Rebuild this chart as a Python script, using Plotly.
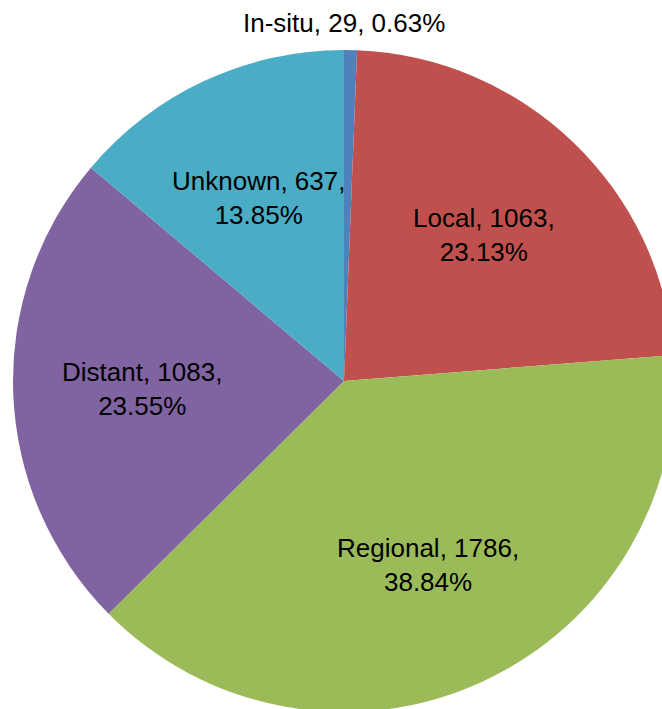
import math
import plotly.graph_objects as go

categories = ["In-situ", "Local", "Regional", "Distant", "Unknown"]
counts = [29, 1063, 1786, 1083, 637]
percent_labels = ["0.63%", "23.13%", "38.84%", "23.55%", "13.85%"]
colors = ["#4F81BD", "#C0504D", "#9BBB59", "#8064A2", "#4BACC6"]

W, H = 690, 730
cx, cy, r = 344, 381, 331
LABEL_FRAC = 0.61
FONT = dict(family="Liberation Sans, Arial, sans-serif", size=26, color="black")

fig = go.Figure(go.Pie(
    labels=categories,
    values=counts,
    textinfo="none",
    hoverinfo="label+value+percent",
    marker=dict(colors=colors, line=dict(width=0)),
    sort=False,
    direction="clockwise",
    rotation=0,
    domain=dict(x=[(cx - r) / W, (cx + r) / W], y=[1 - (cy + r) / H, 1 - (cy - r) / H]),
    showlegend=False,
))

# data labels placed along each slice's mid-angle (derived from the values)
total = sum(counts)
cum = 0
for c, v, p in zip(categories, counts, percent_labels):
    mid = (cum + v / 2) / total * 2 * math.pi
    cum += v
    if c == "In-situ":
        fig.add_annotation(
            x=cx / W, y=1 - 23 / H, xref="paper", yref="paper",
            text=f"{c}, {v}, {p}", showarrow=False, font=FONT,
            xanchor="center", yanchor="middle",
        )
    else:
        px = cx + LABEL_FRAC * r * math.sin(mid)
        py = cy - LABEL_FRAC * r * math.cos(mid)
        fig.add_annotation(
            x=px / W, y=1 - py / H, xref="paper", yref="paper",
            text=f"{c}, {v},<br>{p}", showarrow=False, font=FONT,
            xanchor="center", yanchor="middle", align="center",
        )

fig.update_layout(
    width=W, height=H,
    margin=dict(l=0, r=0, t=0, b=0),
    paper_bgcolor="white",
)
fig.write_html(
    "out.html",
    config={"displayModeBar": False},
    post_script=(
        "document.body.style.margin='0';"
        "document.documentElement.style.overflow='hidden';"
        "document.body.style.overflow='hidden';"
    ),
)
